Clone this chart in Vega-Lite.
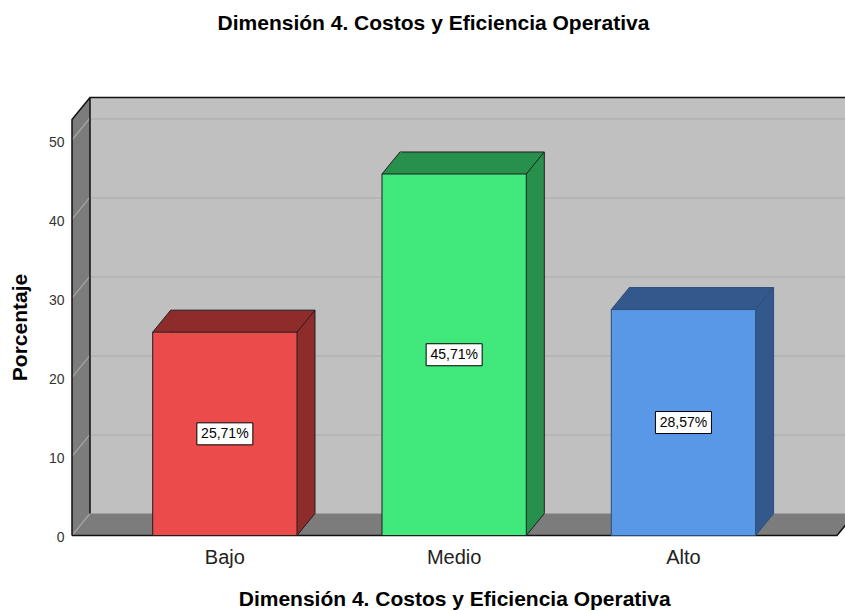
{
  "$schema": "https://vega.github.io/schema/vega-lite/v6.json",
  "width": 755,
  "height": 416,
  "autosize": {"type": "none"},
  "padding": {"left": 90, "top": 97.5, "right": 0, "bottom": 96.5},
  "background": "white",
  "config": {
    "view": {"fill": "#C0C0C0", "stroke": null},
    "font": "Liberation Sans",
    "locale": {"number": {"decimal": ",", "thousands": ".", "grouping": [3], "currency": ["", "%"]}}
  },
  "title": {
    "text": "Dimensión 4. Costos y Eficiencia Operativa",
    "fontSize": 21, "fontWeight": "bold", "color": "#000000", "font": "Liberation Sans",
    "anchor": "middle", "frame": "group", "dx": -34, "offset": 44, "baseline": "alphabetic"
  },
  "data": {"values": [
    {"Nivel": "Bajo", "Porcentaje": 25.71},
    {"Nivel": "Medio", "Porcentaje": 45.71},
    {"Nivel": "Alto", "Porcentaje": 28.57}
  ]},
  "encoding": {
    "x": {
      "field": "Nivel", "type": "nominal", "sort": ["Bajo", "Medio", "Alto"],
      "scale": {"paddingInner": 0.37069, "paddingOuter": 0.33166, "align": 0.53057, "round": false},
      "title": "Dimensión 4. Costos y Eficiencia Operativa",
      "axis": {
        "orient": "bottom", "offset": 22, "labelOffset": -18, "ticks": false, "tickSize": 0,
        "domain": false, "grid": false, "labelAngle": 0, "labelFontSize": 20, "labelColor": "#222222",
        "labelFont": "Liberation Sans", "labelPadding": 12,
        "titleFontSize": 21, "titleFontWeight": "bold", "titleColor": "#000000", "titleFont": "Liberation Sans",
        "titleX": 364.15, "titlePadding": 21
      }
    }
  },
  "resolve": {"scale": {"y": "independent"}},
  "layer": [
    {
      "encoding": {
        "y": {
          "field": "Porcentaje", "type": "quantitative",
          "scale": {"domain": [0, 52.6], "nice": false, "zero": true},
          "title": "Porcentaje",
          "axis": {
            "orient": "left", "offset": 18, "labelOffset": 24, "ticks": false, "tickSize": 0, "domain": false,
            "grid": true, "gridColor": "#A9A9A9", "gridWidth": 1.2, "values": [0, 10, 20, 30, 40, 50],
            "labelFontSize": 14, "labelColor": "#333333", "labelFont": "Liberation Sans", "labelPadding": 8,
            "titleFontSize": 21, "titleFontWeight": "bold", "titleColor": "#000000", "titleFont": "Liberation Sans",
            "titleY": 229.5, "titlePadding": 18
          }
        }
      },
      "layer": [
        {
          "transform": [{"filter": "datum.Nivel === 'Medio'"}],
          "mark": {"type": "point", "filled": true, "opacity": 1, "size": 4, "fill": "#7C7C7C", "strokeWidth": 0,
            "shape": "M -400.15 22 L -400.15 -394 L -382.15 -416 L -382.15 0 Z M -400.15 22 L -382.15 0 L 382.85 0 L 364.85 22 Z"},
          "encoding": {"y": {"datum": 0, "type": "quantitative"}}
        },
        {
          "transform": [{"filter": "datum.Nivel === 'Medio'"}],
          "mark": {"type": "point", "filled": false, "opacity": 1, "size": 4, "stroke": "#A6A6A6", "strokeWidth": 1.2,
            "shape": "M -382.15 0 L -400.15 22 M -382.15 -79.1 L -400.15 -57.1 M -382.15 -158.2 L -400.15 -136.2 M -382.15 -237.3 L -400.15 -215.3 M -382.15 -316.4 L -400.15 -294.4 M -382.15 -395.5 L -400.15 -373.5"},
          "encoding": {"y": {"datum": 0, "type": "quantitative"}}
        },
        {
          "transform": [{"filter": "datum.Nivel === 'Medio'"}],
          "mark": {"type": "point", "filled": false, "opacity": 1, "size": 4, "stroke": "#111111", "strokeWidth": 1.5,
            "shape": "M -400.15 22 L -400.15 -394 L -382.15 -416 L 382.85 -416 M -382.15 -416 L -382.15 0 M -400.15 22 L 364.85 22 L 382.85 0"},
          "encoding": {"y": {"datum": 0, "type": "quantitative"}}
        },
        {
          "mark": {"type": "bar", "strokeWidth": 1},
          "encoding": {
            "color": {"field": "Nivel", "type": "nominal", "scale": {"domain": ["Bajo", "Medio", "Alto"], "range": ["#8E2C2C", "#27904D", "#33598C"]}, "legend": null},
            "stroke": {"field": "Nivel", "type": "nominal", "scale": {"domain": ["Bajo", "Medio", "Alto"], "range": ["#1E1E1E", "#1E1E1E", "#2D4E7A"]}, "legend": null}
          }
        },
        {
          "mark": {"type": "point", "filled": true, "opacity": 1, "size": 4, "strokeWidth": 0,
            "shape": "M -90.15 22 L -72.15 0 L -70.5 0 L -70.5 22 Z"},
          "encoding": {
            "color": {"field": "Nivel", "type": "nominal", "legend": null}
          }
        },
        {
          "mark": {"type": "point", "filled": true, "opacity": 1, "size": 4, "strokeWidth": 0,
            "shape": "M 54.15 22 L 72.15 0 L 72.15 -1.2 L 54.15 -1.2 Z"},
          "encoding": {
            "y": {"datum": 0, "type": "quantitative"},
            "color": {"field": "Nivel", "type": "nominal", "legend": null}
          }
        },
        {
          "mark": {"type": "point", "filled": false, "opacity": 1, "size": 4, "strokeWidth": 1,
            "shape": "M -90.15 22 L -72.15 0 M 54.15 22 L 72.15 0"},
          "encoding": {
            "stroke": {"field": "Nivel", "type": "nominal", "legend": null}
          }
        },
        {
          "mark": {"type": "point", "filled": false, "opacity": 1, "size": 4, "strokeWidth": 1,
            "shape": "M 54.15 22 L 72.15 0"},
          "encoding": {
            "y": {"datum": 0, "type": "quantitative"},
            "stroke": {"field": "Nivel", "type": "nominal", "legend": null}
          }
        },
        {
          "mark": {"type": "bar", "strokeWidth": 1, "xOffset": -18, "x2Offset": -18, "yOffset": 22, "y2Offset": 22},
          "encoding": {
            "fill": {"field": "Nivel", "type": "nominal", "scale": {"domain": ["Bajo", "Medio", "Alto"], "range": ["#EB4B4B", "#41E87C", "#5898E6"]}, "legend": null},
            "stroke": {"field": "Nivel", "type": "nominal", "legend": null}
          }
        }
      ]
    },
    {
      "encoding": {
        "y": {"field": "Porcentaje", "type": "quantitative", "scale": {"domain": [0, 105.2], "nice": false, "zero": true}, "axis": null}
      },
      "layer": [
        {
          "mark": {"type": "point", "filled": true, "opacity": 1, "size": 4, "fill": "#FFFFFF", "stroke": "#000000", "strokeWidth": 1,
            "xOffset": -18, "yOffset": 22, "shape": "M -28 -11 H 28 V 11 H -28 Z"}
        },
        {
          "mark": {"type": "text", "fontSize": 14, "font": "Liberation Sans", "color": "#000000", "align": "center", "baseline": "middle", "xOffset": -18, "yOffset": 22},
          "encoding": {"text": {"field": "Porcentaje", "type": "quantitative", "format": "$.2f"}}
        }
      ]
    }
  ]
}
